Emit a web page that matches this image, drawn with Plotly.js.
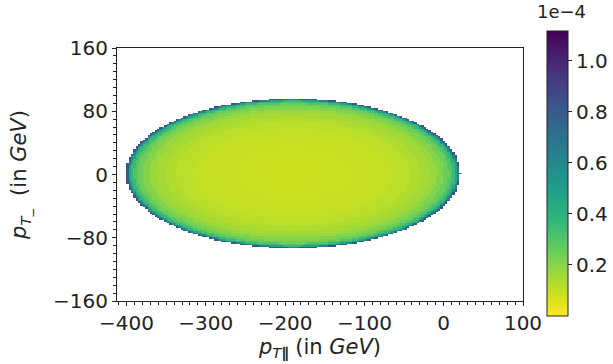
<!DOCTYPE html>
<html>
<head>
<meta charset="utf-8">
<script src="https://cdn.plot.ly/plotly-3.0.1.min.js"></script>
<style>html,body{margin:0;padding:0;background:#fff;}#chart{width:613px;height:364px;}</style>
</head>
<body>
<div id="chart"></div>
<script>
// Ellipse support (GeV)
var ellipseCenterX = -190;
var ellipseCenterY = 1;
var ellipseSemiX = 211;
var ellipseSemiY = 95;
// Radial density profile (normalised elliptic radius -> value in units of 1e-4)
var ringOuterRadius = [0.2, 0.35, 0.5, 0.6, 0.7, 0.76, 0.82, 0.86, 0.9, 0.93, 0.95, 0.97, 0.98, 0.99, 1.0];
var ringValue       = [0.085, 0.09, 0.095, 0.10, 0.115, 0.13, 0.15, 0.17, 0.21, 0.25, 0.30, 0.37, 0.46, 0.62, 0.82];
// Axis ticks
var xTickVals = [-400, -300, -200, -100, 0, 100];
var xTickText = ['\u2212400', '\u2212300', '\u2212200', '\u2212100', '0', '100'];
var yTickVals = [-160, -80, 0, 80, 160];
var yTickText = ['\u2212160', '\u221280', '0', '80', '160'];
var cbTickVals = [0.2, 0.4, 0.6, 0.8, 1.0];
var cbTickText = ['0.2', '0.4', '0.6', '0.8', '1.0'];

// Build the heatmap cell table from the ring profile
var xs = [], ys = [], zs = [];
for (var x = ellipseCenterX - ellipseSemiX - 1; x <= ellipseCenterX + ellipseSemiX + 2; x += 3) xs.push(x);
for (var y = ellipseCenterY - ellipseSemiY - 1; y <= ellipseCenterY + ellipseSemiY + 1; y += 2) ys.push(y);
for (var j = 0; j < ys.length; j++) {
  var row = [];
  for (var i = 0; i < xs.length; i++) {
    var u = (xs[i] - ellipseCenterX) / ellipseSemiX, v = (ys[j] - ellipseCenterY) / ellipseSemiY;
    var r = Math.sqrt(u * u + v * v);
    var val = null;
    for (var k = 0; k < ringOuterRadius.length; k++) {
      if (r <= ringOuterRadius[k]) { val = ringValue[k]; break; }
    }
    row.push(val);
  }
  zs.push(row);
}

var tickFont = {family: 'DejaVu Sans, sans-serif', size: 20, color: '#222'};
var titleFont = {family: 'DejaVu Sans, sans-serif', size: 21, color: '#222'};
var trace = {
  type: 'heatmap', x: xs, y: ys, z: zs,
  colorscale: 'Viridis', reversescale: true, zmin: 0, zmax: 1.116, zsmooth: false,
  hoverongaps: false,
  colorbar: {
    x: 1.059, xanchor: 'left', xpad: 0, y: 0.504, yanchor: 'middle', ypad: 0,
    lenmode: 'pixels', len: 285, thickness: 21, outlinewidth: 1, outlinecolor: '#222',
    tickvals: cbTickVals, ticktext: cbTickText, ticks: 'outside', ticklen: 4, tickcolor: '#222',
    tickfont: tickFont
  }
};
var layout = {
  width: 613, height: 364,
  margin: {l: 117, r: 90, t: 48, b: 63, autoexpand: false},
  paper_bgcolor: '#fff', plot_bgcolor: '#fff',
  font: tickFont, showlegend: false,
  title: {
    text: '1e\u22124', xref: 'container', x: 0.876, xanchor: 'left',
    yref: 'container', y: 0.967, yanchor: 'middle',
    font: {family: 'DejaVu Sans, sans-serif', size: 18, color: '#222'}
  },
  xaxis: {
    range: [-412, 100], tickvals: xTickVals, ticktext: xTickText,
    ticks: 'outside', ticklen: 4, tickcolor: '#222', showline: true, linecolor: '#222', linewidth: 1,
    mirror: true, showgrid: false, zeroline: false, tickfont: tickFont, automargin: false,
    minor: {dtick: 10, ticks: 'outside', ticklen: 3, tickcolor: '#222', showgrid: false},
    title: {text: '<i>p</i><sub><i>T</i><b>\u2225</b></sub> (in <i>GeV</i>)', font: titleFont, standoff: 2}
  },
  yaxis: {
    range: [-160, 160], tickvals: yTickVals, ticktext: yTickText,
    ticks: 'outside', ticklen: 4, tickcolor: '#222', showline: true, linecolor: '#222', linewidth: 1,
    mirror: true, showgrid: false, zeroline: false, tickfont: tickFont, automargin: false,
    minor: {dtick: 10, ticks: 'outside', ticklen: 3, tickcolor: '#222', showgrid: false},
    title: {text: '<i>p</i><sub><i>T</i>_</sub>  (in <i>GeV</i>)', font: titleFont, standoff: 20}
  }
};
Plotly.newPlot('chart', [trace], layout, {staticPlot: true});
</script>
</body>
</html>
